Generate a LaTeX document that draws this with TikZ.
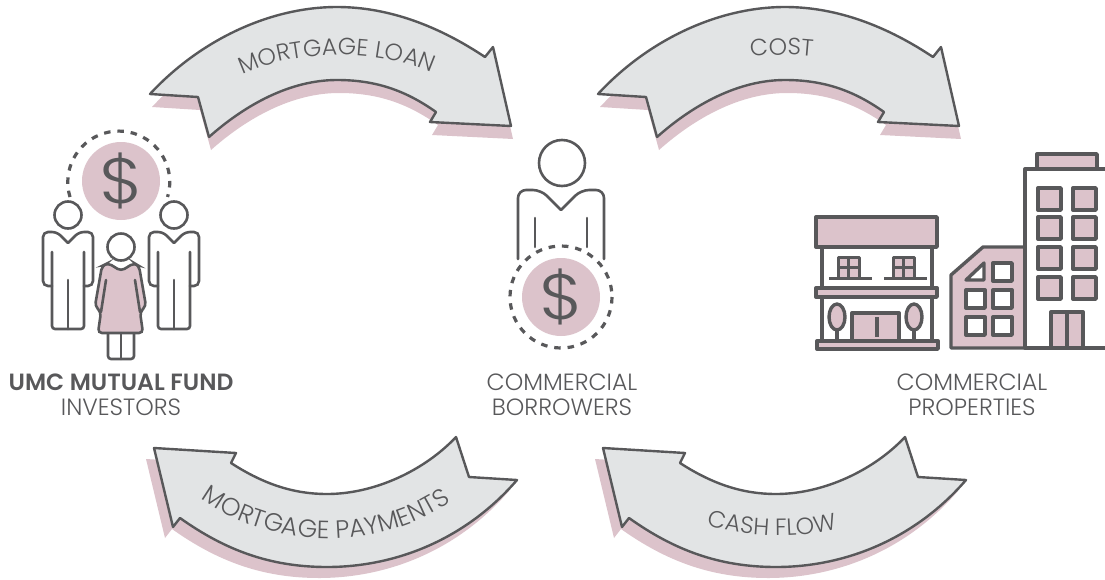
\documentclass[tikz,border=0pt]{standalone}
\usepackage{fontspec}
\setmainfont{Poppins}[UprightFont=* Light,BoldFont=* SemiBold]
\usetikzlibrary{decorations.text}
\definecolor{inkgray}{HTML}{58585A}
\definecolor{rosefill}{HTML}{DCC3CB}
\definecolor{arrowfill}{HTML}{E2E4E5}
\newcommand{\labelfont}{\fontsize{23.5}{25}\selectfont}
\newcommand{\widefont}{\fontsize{25}{25}\selectfont}
\newcommand{\signfont}{\fontsize{64}{64}\selectfont}
\newcommand{\toparrow}{(150,94) .. controls (200,40) and (270,7) .. (337,7) .. controls (390,7) and (440,27) .. (485,57) -- (493,47) -- (511,126) -- (430,122) -- (436,112) .. controls (405,90) and (375,80) .. (337,80) .. controls (290,80) and (245,105) .. (209,137) -- (198,97) -- cycle}
\newcommand{\lowarrow}{(154,448) -- (236,453) -- (231,463) .. controls (265,485) and (295,494) .. (327,494) .. controls (375,494) and (425,470) .. (456,437) -- (469,477) -- (517,480) .. controls (465,540) and (395,567) .. (327,567) .. controls (270,567) and (225,550) .. (180,518) -- (173,527) -- cycle}
\newcommand{\manfigure}[2]{
  \begin{scope}[shift={(#1,#2)}]
    \draw[iconline] (0,0) circle (13.5);
    \draw[iconline,rounded corners=5pt] (-16,71) -- (-25,71) -- (-25,17) -- (-11,17) -- (0,28);
    \draw[iconline,rounded corners=5pt] (16,71) -- (25,71) -- (25,17) -- (11,17) -- (0,28);
    \draw[iconline,rounded corners=3pt] (-16,37) -- (-16,114) -- (16,114) -- (16,37);
    \draw[iconline] (0,65) -- (0,114);
  \end{scope}
}
\tikzset{
  iconline/.style={draw=inkgray,line width=2.6pt,line cap=round},
  flowarrow/.style={draw=inkgray,fill=arrowfill,line width=2.4pt,line join=round},
  shadowarrow/.style={fill=rosefill},
  moneyring/.style={draw=inkgray,line width=3.2pt,dash pattern=on 6.5pt off 6.9pt},
  moneydot/.style={fill=rosefill},
  moneysign/.style={text=inkgray,font=\signfont},
  bldg/.style={draw=inkgray,line width=3.4pt,line join=round},
  rosebldg/.style={bldg,fill=rosefill},
  whitebldg/.style={bldg,fill=white},
  caption/.style={align=center,text=inkgray,font=\labelfont},
  curvedtext/.style={decorate,decoration={text along path,text align=center,text color=inkgray,text={|\labelfont|#1}}}
}
\begin{document}
\begin{tikzpicture}[x=1pt,y=-1pt]
  \useasboundingbox (0,0) rectangle (1105,579);
  % flow arrows
  \foreach \dx in {0,448} {
    \fill[shadowarrow,shift={(\dx+2,13)}] \toparrow;
    \draw[flowarrow,shift={(\dx,0)}] \toparrow;
  }
  \foreach \dx in {0,449} {
    \fill[shadowarrow,shift={(\dx-8,11)}] \lowarrow;
    \draw[flowarrow,shift={(\dx,0)}] \lowarrow;
  }
  \path[curvedtext={MORTGAGE LOAN}] (232,80) .. controls (290,47) and (385,47) .. (442,78);
  \path[curvedtext={COST}] (677,80) .. controls (735,47) and (830,47) .. (887,78);
  \path[curvedtext={|\widefont|MORTGAGE PAYMENTS}] (190,490) .. controls (265,554) and (390,554) .. (462,493);
  \path[curvedtext={CASH FLOW}] (645,495) .. controls (718,548) and (833,548) .. (900,501);
  % investors
  \fill[moneydot] (121,181) circle (39);
  \draw[moneyring] (70,197) arc (163:377:51);
  \node[moneysign] (fundsign) at (121,181) {\scalebox{1.15}[1]{\$}};
  \manfigure{68}{215}
  \manfigure{174}{215}
  \draw[iconline] (121,247) circle (13.5);
  \draw[iconline,fill=rosefill,rounded corners=4pt] (121,271) -- (108,263) -- (102,266) -- (95,306) -- (101,312) -- (98,333) -- (143,333) -- (140,312) -- (146,306) -- (139,266) -- (134,263) -- cycle;
  \draw[iconline] (106,280) -- (101,312);
  \draw[iconline] (135,280) -- (140,312);
  \draw[iconline,rounded corners=3pt] (108,334) -- (108,359) -- (134,359) -- (134,334);
  \draw[iconline] (121,334) -- (121,359);
  \node[caption] (investors) at (121,395) {\textbf{UMC MUTUAL FUND}\\INVESTORS};
  % borrower
  \draw[iconline] (562,163) circle (23);
  \draw[iconline,rounded corners=8pt] (518,259) -- (518,190) -- (541,190) -- (561,210);
  \draw[iconline,rounded corners=8pt] (604,259) -- (604,190) -- (581,190) -- (561,210);
  \draw[iconline] (535,218) -- (535,247);
  \draw[iconline] (587,218) -- (587,247);
  \fill[moneydot] (561,297) circle (39);
  \draw[moneyring] (561,297) circle (51);
  \node[moneysign] (loansign) at (561,297) {\scalebox{1.15}[1]{\$}};
  \node[caption] (borrowers) at (562,394.5) {COMMERCIAL\\BORROWERS};
  % shop
  \draw[whitebldg] (822,247) rectangle (932,342);
  \draw[rosebldg] (816,217) rectangle (937,247);
  \draw[rosebldg] (816,288) rectangle (937,297);
  \draw[rosebldg] (817,341) rectangle (938,349);
  \foreach \wx in {838,893} {
    \draw[rosebldg,line width=3pt] (\wx,257) rectangle +(21,21);
    \draw[bldg,line width=3pt] (\wx+10.5,257) -- +(0,21);
    \draw[bldg,line width=3pt] (\wx,267.5) -- +(21,0);
    \draw[bldg,line width=3pt] (\wx-9,278) -- +(43,0);
  }
  \draw[rosebldg] (852,313) rectangle (899,341);
  \draw[bldg] (877,317) -- (877,337);
  \foreach \tx in {837,914} {
    \draw[bldg] (\tx,330) -- (\tx,341);
    \draw[rosebldg] (\tx,317) ellipse (8 and 13);
  }
  % towers
  \draw[rosebldg] (951,275) -- (983,247) -- (1025,247) -- (1025,348) -- (951,348) -- cycle;
  \draw[whitebldg] (966,280) -- (984,263) -- (984,280) -- cycle;
  \foreach \wx/\wy in {993/263,966/290,993/290,966/317,993/317}
    \draw[whitebldg] (\wx,\wy) rectangle +(19,18);
  \draw[whitebldg] (1025,348) -- (1025,169) -- (1110,169) -- (1110,348) -- cycle;
  \draw[rosebldg] (1037,154) rectangle (1097,169);
  \foreach \wy in {188,217,247,277}
    \foreach \wx in {1038,1073}
      \draw[rosebldg] (\wx,\wy) rectangle +(23,22);
  \draw[rosebldg] (1051,312) rectangle (1083,348);
  \draw[bldg] (1067,312) -- (1067,348);
  \node[caption] (properties) at (972,394.5) {COMMERCIAL\\PROPERTIES};
\end{tikzpicture}
\end{document}
